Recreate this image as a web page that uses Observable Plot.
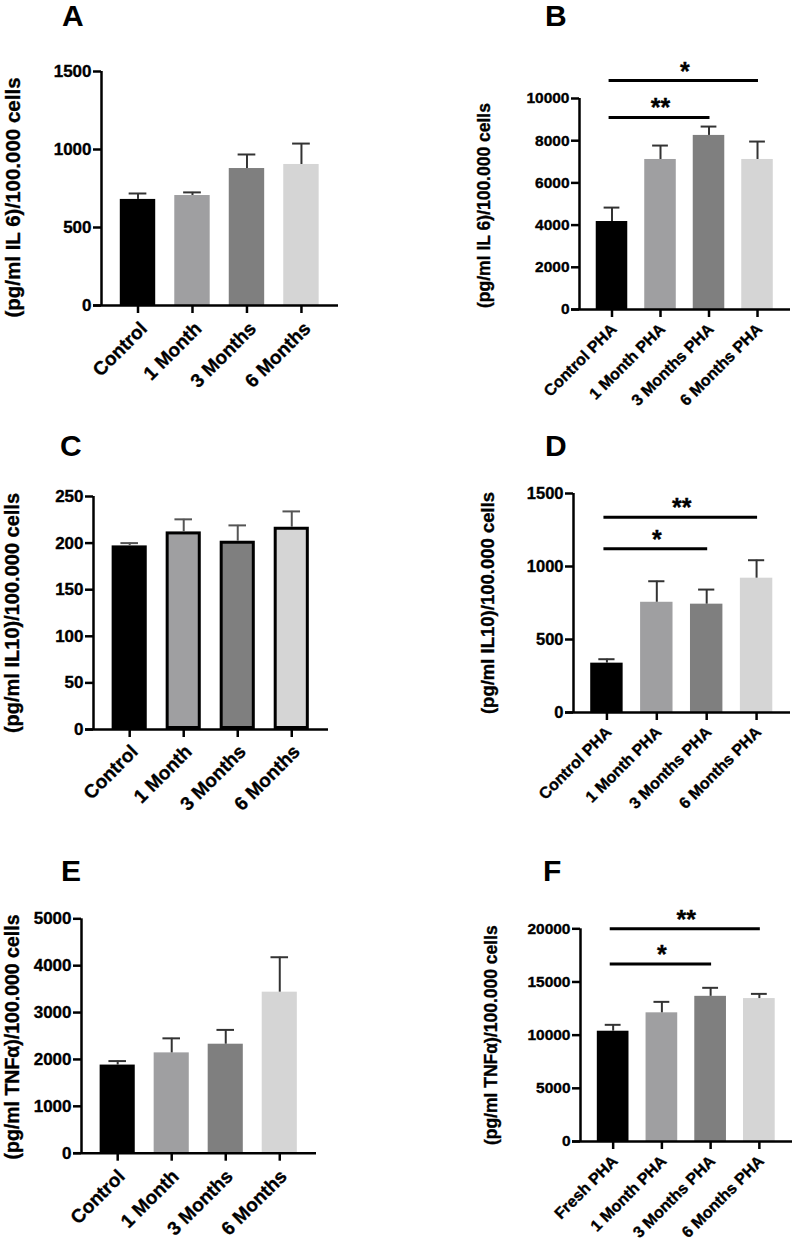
<!DOCTYPE html>
<html>
<head>
<meta charset="utf-8">
<script src="https://cdn.jsdelivr.net/npm/d3@7"></script>
<script src="https://cdn.jsdelivr.net/npm/@observablehq/plot@0.6"></script>
<style>
  body { margin: 0; background: #fff; }
  #fig { position: relative; width: 796px; height: 1242px; overflow: hidden;
         font-family: "Liberation Sans", Arial, sans-serif; color: #000; }
  .panel { position: absolute; }
  .panel svg { overflow: visible; background: transparent; }
  .panel svg text { stroke: #000; stroke-width: 0.35px; }
  .tag { position: absolute; font-weight: bold; font-size: 30px; line-height: 30px; }
</style>
</head>
<body>
<div id="fig"></div>
<script>
// ---- Groups (x categories) ----
const restGroups = ["Control", "1 Month", "3 Months", "6 Months"];
const phaGroups = ["Control PHA", "1 Month PHA", "3 Months PHA", "6 Months PHA"];
const phaFreshGroups = ["Fresh PHA", "1 Month PHA", "3 Months PHA", "6 Months PHA"];

// ---- IL-6 (A: resting, B: PHA-stimulated), mean and SEM ----
const il6RestMean = [680, 705, 878, 904];
const il6RestSem = [38, 20, 90, 134];
const il6PhaMean = [4170, 7110, 8250, 7110];
const il6PhaSem = [660, 660, 420, 850];

// ---- IL-10 (C: resting, D: PHA-stimulated) ----
const il10RestMean = [197, 212, 202, 217];
const il10RestSem = [3, 13.5, 17, 17];
const il10PhaMean = [338, 755, 742, 920];
const il10PhaSem = [27, 144, 100, 123];

// ---- TNF-alpha (E: resting, F: PHA-stimulated) ----
const tnfRestMean = [1880, 2140, 2325, 3435];
const tnfRestSem = [85, 310, 305, 745];
const tnfPhaMean = [10370, 12100, 13650, 13440];
const tnfPhaSem = [600, 1030, 800, 440];

// ---- Significance brackets: group index range, bracket height, stars ----
const il6PhaSig = [
  {from: 0, to: 2, y: 9100, stars: "**"},
  {from: 0, to: 3, y: 10850, stars: "*"}
];
const il10PhaSig = [
  {from: 0, to: 3, y: 1338, stars: "**"},
  {from: 0, to: 2, y: 1121, stars: "*"}
];
const tnfPhaSig = [
  {from: 0, to: 3, y: 20000, stars: "**"},
  {from: 0, to: 2, y: 16700, stars: "*"}
];

// ---- Y axis ticks ----
const il6RestTicks = [0, 500, 1000, 1500];
const il6PhaTicks = [0, 2000, 4000, 6000, 8000, 10000];
const il10RestTicks = [0, 50, 100, 150, 200, 250];
const il10PhaTicks = [0, 500, 1000, 1500];
const tnfRestTicks = [0, 1000, 2000, 3000, 4000, 5000];
const tnfPhaTicks = [0, 5000, 10000, 15000, 20000];

// ---- Styling ----
const barColors = ["#000000", "#9f9fa1", "#7f7f7f", "#d5d5d5"];
const FONT = '"Liberation Sans", Arial, sans-serif';
const X_DOMAIN = [-0.67, 3.68];
const HALF_BAR = 0.325;
const AXIS_W = 2.5;
const TICK = 8;

const fig = document.getElementById("fig");

function tag(letter, left, top) {
  const d = document.createElement("div");
  d.className = "tag";
  d.textContent = letter;
  d.style.left = left + "px";
  d.style.top = top + "px";
  fig.appendChild(d);
}

function panel(cfg) {
  const {groups, mean, sem, sig = [], ticks, label, box, margins, tickFont, xFont, xShift,
         labelFont, labelDx, labelDy = 0, outlined = false, errColor = "#333"} = cfg;
  const rows = groups.map((g, i) => ({i, g, mean: mean[i], sem: sem[i]}));
  const yDomain = [ticks[0], ticks[ticks.length - 1]];
  const xTicks = groups.map((g, i) => i);
  const inset = outlined ? 1.5 : 0;

  const chart = Plot.plot({
    width: box.w,
    height: box.h,
    marginLeft: margins[0],
    marginTop: margins[1],
    marginRight: margins[2],
    marginBottom: margins[3],
    style: {fontFamily: FONT, fontWeight: "bold", fontSize: tickFont + "px", color: "#000", background: "transparent", overflow: "visible"},
    x: {type: "linear", domain: X_DOMAIN},
    y: {type: "linear", domain: yDomain},
    color: {domain: groups, range: barColors},
    marks: [
      // bars
      Plot.rect(rows, {
        x1: d => d.i - HALF_BAR, x2: d => d.i + HALF_BAR, y1: 0, y2: "mean",
        fill: "g",
        stroke: outlined ? "#000" : null,
        strokeWidth: outlined ? 3 : null,
        inset
      }),
      // SEM error bars (upper half) with caps
      Plot.ruleX(rows, {x: "i", y1: "mean", y2: d => d.mean + d.sem, stroke: errColor, strokeWidth: 2}),
      Plot.ruleY(rows, {y: d => d.mean + d.sem, x1: d => d.i - HALF_BAR / 2, x2: d => d.i + HALF_BAR / 2, stroke: errColor, strokeWidth: 2}),
      // axis lines (x axis runs slightly past the y axis on the left)
      Plot.ruleX([X_DOMAIN[0]], {y1: yDomain[0], y2: yDomain[1], strokeWidth: AXIS_W}),
      Plot.ruleY([0], {insetLeft: -8, strokeWidth: AXIS_W}),
      // y ticks and labels
      Plot.axisY({ticks, tickSize: TICK, tickPadding: 2, tickFormat: d => String(d), strokeWidth: AXIS_W, label: null, fontSize: tickFont}),
      // x tick marks
      Plot.axisX({ticks: xTicks, tickSize: TICK, tickFormat: () => "", strokeWidth: AXIS_W, label: null}),
      // rotated group names
      Plot.axisX({ticks: xTicks, tickSize: 0, tickPadding: TICK + 4, tickFormat: i => groups[i], tickRotate: -45,
                  dx: xShift[0], dy: xShift[1], label: null, fontSize: xFont}),
      // significance brackets
      Plot.ruleY(sig, {y: "y", x1: d => d.from - 0.06, x2: d => d.to + 0.02, strokeWidth: 3}),
      Plot.text(sig, {x: d => (d.from + d.to) / 2, y: "y", text: "stars", dy: -9, fontSize: 25, fontWeight: "bold"}),
      // y axis title
      Plot.text([label], {text: d => d, frameAnchor: "left", textAnchor: "middle", rotate: -90, dx: labelDx, dy: labelDy, fontSize: labelFont, fontWeight: "bold"})
    ]
  });

  const holder = document.createElement("div");
  holder.className = "panel";
  holder.style.left = box.x + "px";
  holder.style.top = box.y + "px";
  holder.appendChild(chart);
  fig.appendChild(holder);
}

panel({groups: restGroups, mean: il6RestMean, sem: il6RestSem, ticks: il6RestTicks,
  label: "(pg/ml IL 6)/100.000 cells",
  box: {x: 0, y: 40, w: 398, h: 400}, margins: [101, 31, 60, 135],
  tickFont: 17, xFont: 19, xShift: [6, 8], labelFont: 20.5, labelDx: -88, labelDy: 9});

panel({groups: phaGroups, mean: il6PhaMean, sem: il6PhaSem, sig: il6PhaSig, ticks: il6PhaTicks,
  label: "(pg/ml IL 6)/100.000 cells",
  box: {x: 400, y: 40, w: 396, h: 400}, margins: [179, 58, 6, 131],
  tickFont: 15.5, xFont: 16, xShift: [2, 5], labelFont: 17.5, labelDx: -95.5, labelDy: 1.5});

panel({groups: restGroups, mean: il10RestMean, sem: il10RestSem, ticks: il10RestTicks,
  label: "(pg/ml IL10)/100.000 cells", outlined: true, errColor: "#555",
  box: {x: 0, y: 440, w: 398, h: 400}, margins: [93, 56, 70, 111],
  tickFont: 17, xFont: 19, xShift: [5, 7], labelFont: 20, labelDx: -80.5});

panel({groups: phaGroups, mean: il10PhaMean, sem: il10PhaSem, sig: il10PhaSig, ticks: il10PhaTicks,
  label: "(pg/ml IL10)/100.000 cells",
  box: {x: 400, y: 440, w: 396, h: 400}, margins: [173, 53, 6, 128],
  tickFont: 16.5, xFont: 16, xShift: [2, 5], labelFont: 18.5, labelDx: -85});

panel({groups: restGroups, mean: tnfRestMean, sem: tnfRestSem, ticks: tnfRestTicks,
  label: "(pg/ml TNFα)/100.000 cells",
  box: {x: 0, y: 860, w: 398, h: 382}, margins: [81, 58.3, 82, 89.3],
  tickFont: 17, xFont: 19, xShift: [4, 8], labelFont: 19.5, labelDx: -68.5, labelDy: 1});

panel({groups: phaFreshGroups, mean: tnfPhaMean, sem: tnfPhaSem, sig: tnfPhaSig, ticks: tnfPhaTicks,
  label: "(pg/ml TNFα)/100.000 cells",
  box: {x: 400, y: 860, w: 396, h: 382}, margins: [180, 68.3, 4, 101],
  tickFont: 15.5, xFont: 16, xShift: [2, 5], labelFont: 17.5, labelDx: -89});

tag("A", 62, 1);
tag("B", 545, 1);
tag("C", 60, 431);
tag("D", 545, 431);
tag("E", 61, 856);
tag("F", 543, 856);
</script>
</body>
</html>
